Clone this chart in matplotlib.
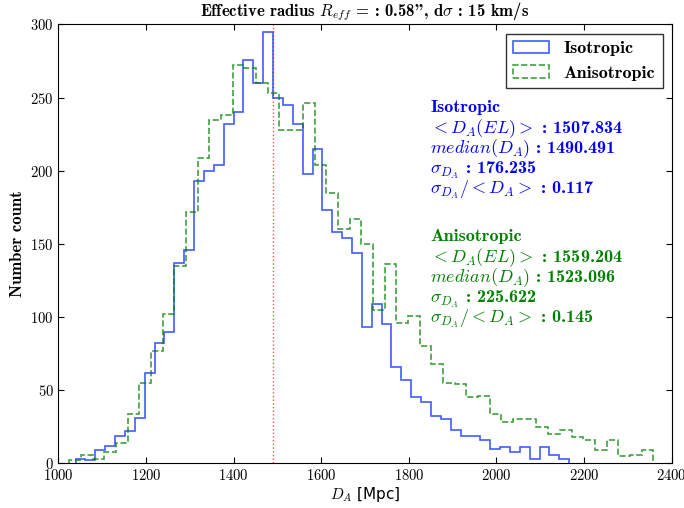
import numpy as np
import matplotlib
matplotlib.use("Agg")
from matplotlib import pyplot as plt

# histogram counts (50 bins each)
iso_counts = [3, 2, 9, 12, 19, 22, 31, 62, 82, 90,
              137, 146, 193, 200, 204, 232, 240, 276, 260, 295,
              250, 245, 232, 198, 215, 173, 158, 154, 144, 93,
              109, 95, 66, 57, 45, 42, 32, 30, 23, 19,
              19, 16, 10, 11, 8, 11, 3, 11, 6, 3]
aniso_counts = [2, 6, 3, 8, 14, 34, 55, 77, 102, 135,
                172, 209, 235, 238, 272, 270, 260, 253, 228, 228,
                246, 204, 185, 160, 167, 150, 105, 136, 96, 101,
                80, 68, 55, 54, 45, 46, 34, 28, 30, 30,
                25, 20, 23, 18, 16, 9, 16, 5, 6, 9]
iso_range = (1039.0, 2166.0)
aniso_range = (1024.5, 2358.0)
median_iso = 1490.491

iso_stats = ["1507.834", "1490.491", "176.235", "0.117"]
aniso_stats = ["1559.204", "1523.096", "225.622", "0.145"]

plt.rcParams['mathtext.fontset'] = 'cm'
plt.rcParams['axes.formatter.use_mathtext'] = True
plt.rcParams['font.family'] = 'cmr10'

fig = plt.figure(figsize=(6.84, 5.08), dpi=100)
ax = fig.add_axes([0.0855, 0.088, 0.8965, 0.8638])

iso_edges = np.linspace(iso_range[0], iso_range[1], len(iso_counts) + 1)
aniso_edges = np.linspace(aniso_range[0], aniso_range[1], len(aniso_counts) + 1)
iso_mid = (iso_edges[:-1] + iso_edges[1:]) / 2
aniso_mid = (aniso_edges[:-1] + aniso_edges[1:]) / 2

ax.hist(iso_mid, bins=iso_edges, weights=iso_counts, histtype='step',
        color='#2040ff', alpha=0.85, lw=1.2, label='Isotropic')
ax.hist(aniso_mid, bins=aniso_edges, weights=aniso_counts, histtype='step',
        color='g', alpha=0.75, lw=1.2, ls='dashed', label='Anisotropic')
ax.axvline(median_iso, color='r', ls=':', lw=1, alpha=0.7)

ax.set_xlim(1000, 2400)
ax.set_ylim(0, 300)
ax.set_xticks(np.arange(1000, 2401, 200))
ax.set_yticks(np.arange(0, 301, 50))
ax.tick_params(direction='in', top=True, right=True, length=4, labelsize=10.5)

ax.set_xlabel(r'$D_A$ [Mpc]', fontsize=11, family='DejaVu Sans', labelpad=1)
ax.set_ylabel('Number count', fontsize=12, family='cmb10')
ax.set_title(r'Effective radius $R_{eff}$ = : 0.58", d$\sigma$ : 15 km/s',
             fontsize=12, family='cmb10')

leg = ax.legend(loc='upper right', fancybox=False, handlelength=2.0,
                prop={'family': 'cmb10', 'size': 13})
leg.get_frame().set_edgecolor('k')

def stat_block(y0, name, vals, col):
    lines = [name,
             r'$< D_A(EL) >$ : ' + vals[0],
             r'$median(D_A)$ : ' + vals[1],
             r'$\sigma_{D_A}$ : ' + vals[2],
             r'$\sigma_{D_A}/< D_A >$ : ' + vals[3]]
    for i, s in enumerate(lines):
        ax.text(0.606, y0 - i * 0.047, s, transform=ax.transAxes, color=col,
                fontsize=13, family='cmb10', va='center')

stat_block(0.81, 'Isotropic', iso_stats, 'b')
stat_block(0.516, 'Anisotropic', aniso_stats, 'g')

fig.savefig('out.png', dpi=100)
